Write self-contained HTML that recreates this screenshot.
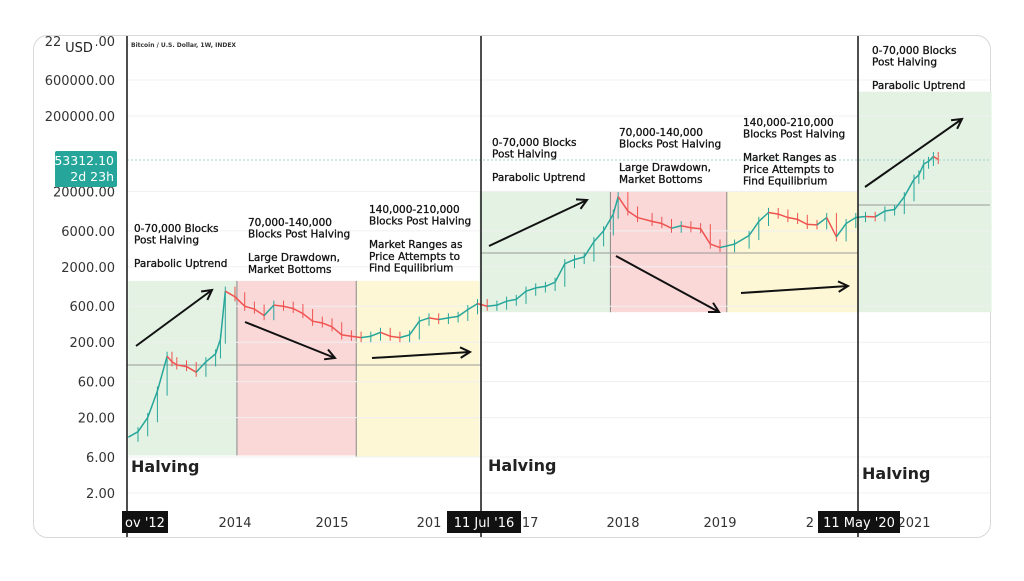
<!DOCTYPE html>
<html><head><meta charset="utf-8"><style>
body{margin:0;background:#fff;width:1024px;height:576px;overflow:hidden;font-family:"Liberation Sans","DejaVu Sans",sans-serif}
svg text{font-family:"DejaVu Sans","Liberation Sans",sans-serif}
</style></head><body>
<svg id="c" width="1024" height="576">
<rect x="33.5" y="35.5" width="957" height="502" rx="14" fill="#fff" stroke="#d8d8d8"/>
<g id="bg"></g><g id="grid"></g><g id="marks"></g><g id="ann"></g><g id="axes"></g>
</svg>
<script>
const yTicks=[600000,200000,20000,6000,2000,600,200,60,20,6,2];
const yTickLabels=["600000.00","200000.00","20000.00","6000.00","2000.00","600.00","200.00","60.00","20.00","6.00","2.00"];
const xTicks=[2014,2015,2016,2017,2018,2019,2021];
const xTickLabels=["2014","2015","201","017","2018","2019","2021"];
const dates=[2012.9,2013.0,2013.1,2013.2,2013.3,2013.35,2013.4,2013.5,2013.6,2013.7,2013.8,2013.85,2013.9,2014.0,2014.1,2014.2,2014.3,2014.4,2014.5,2014.6,2014.7,2014.8,2014.9,2015.0,2015.1,2015.2,2015.3,2015.4,2015.5,2015.6,2015.7,2015.8,2015.9,2016.0,2016.1,2016.2,2016.3,2016.4,2016.5,2016.6,2016.7,2016.8,2016.9,2017.0,2017.1,2017.2,2017.3,2017.4,2017.5,2017.6,2017.7,2017.8,2017.9,2017.95,2018.05,2018.15,2018.3,2018.4,2018.5,2018.6,2018.7,2018.8,2018.9,2019.0,2019.15,2019.3,2019.4,2019.5,2019.6,2019.7,2019.8,2019.9,2020.0,2020.1,2020.2,2020.3,2020.4,2020.5,2020.6,2020.7,2020.8,2020.9,2021.0,2021.05,2021.1,2021.15,2021.2,2021.25];
const closes=[11,13,20,45,130,110,100,95,80,110,140,220,950,800,600,550,450,620,600,560,480,380,360,320,250,240,230,240,270,240,230,250,380,420,400,420,440,540,650,600,620,700,740,950,1050,1100,1250,2200,2500,2700,4300,6000,10000,17000,11000,9000,8000,7500,6500,7000,6600,6400,4000,3600,4000,5200,8000,10500,10000,9000,8500,7300,7200,9000,5000,7500,9000,9300,9200,11000,11500,17000,29000,33000,46000,50000,58000,53000];
const bands=[
[2012.9,2014.02,1300,6.3,"#e3f2e3"],[2014.02,2015.25,1300,6.3,"#fbd8d8"],[2015.25,2016.52,1300,6.1,"#fdf7d6"],
[2016.52,2017.87,20000,500,"#e3f2e3"],[2017.87,2019.07,20000,500,"#fbd8d8"],[2019.07,2020.42,20000,500,"#fdf7d6"],
[2020.42,2021.8,420000,500,"#e3f2e3"]];
const NS="http://www.w3.org/2000/svg";
const X=t=>235+(t-2014)*97;
const Y=v=>493-(Math.log10(v)-Math.log10(2))*75.4;
function mk(tag,attrs,parent,txt){const e=document.createElementNS(NS,tag);for(const k in attrs)e.setAttribute(k,attrs[k]);if(txt!==undefined)e.textContent=txt;document.getElementById(parent).appendChild(e);return e;}
bands.forEach((b,i)=>{const e=mk('rect',{x:X(b[0]),y:Y(b[2]),width:X(b[1])-X(b[0]),height:Y(b[3])-Y(b[2]),fill:b[4]},'bg');


if(i>0&&i!==3&&i!==6){const l=mk('line',{x1:X(b[0]),x2:X(b[0]),y1:Y(b[2]),y2:Y(b[3]),stroke:'#888','stroke-width':1},'bg');

}});
yTicks.forEach(v=>{const l=mk('line',{x1:127,x2:990,y1:Y(v),y2:Y(v),stroke:'#f0f0f0'},'grid');

});
[[127,481,365],[481,858,253],[858,990,205]].forEach(h=>{const l=mk('line',{x1:h[0],x2:h[1],y1:h[2],y2:h[2],stroke:'#999','stroke-width':1},'grid');

});
const pl=mk('line',{x1:127,x2:990,y1:160,y2:160,stroke:'#9fd6cd','stroke-dasharray':'2 2'},'grid');


for(let i=1;i<closes.length;i++){const o=closes[i-1],c=closes[i];const up=c>=o;const col=up?'#26a69a':'#ef5350';
const x=X(dates[i]);const hi=Math.max(o,c)*1.15,lo=Math.min(o,c)/1.15;
const w=mk('line',{x1:x,x2:x,y1:Y(hi),y2:Y(lo),stroke:col,'stroke-width':1},'marks');


const seg=mk('line',{x1:X(dates[i-1]),x2:x,y1:Y(o),y2:Y(c),stroke:col,'stroke-width':1.5},'marks');

}
const arrows=[[136,346,212,290],[245,322,335,358],[372,358,470,352],[489,246,587,200],[616,256,719,312],[741,293,848,286],[865,187,962,119]];
arrows.forEach(a=>{const g=mk('g',{},'ann');
const ang=Math.atan2(a[3]-a[1],a[2]-a[0]);const L=11;
const p=(d)=>[a[2]-L*Math.cos(ang+d),a[3]-L*Math.sin(ang+d)];
const p1=p(0.5),p2=p(-0.5);
const e=document.createElementNS(NS,'path');e.setAttribute('d',`M${a[0]},${a[1]}L${a[2]},${a[3]}M${p1[0]},${p1[1]}L${a[2]},${a[3]}L${p2[0]},${p2[1]}`);
e.setAttribute('stroke','#111');e.setAttribute('stroke-width','2');e.setAttribute('fill','none');g.appendChild(e);});
const notes=[[134,232,["0-70,000 Blocks"," Post Halving","","Parabolic Uptrend"]],[248,226,["70,000-140,000","Blocks Post Halving","","Large Drawdown,","Market Bottoms"]],
[369,213,["140,000-210,000","Blocks Post Halving","","Market Ranges as","Price Attempts to","Find Equilibrium"]],
[492,146,["0-70,000 Blocks"," Post Halving","","Parabolic Uptrend"]],[619,136,["70,000-140,000","Blocks Post Halving","","Large Drawdown,","Market Bottoms"]],
[743,126,["140,000-210,000","Blocks Post Halving","","Market Ranges as","Price Attempts to","Find Equilibrium"]],[872,54,["0-70,000 Blocks"," Post Halving","","Parabolic Uptrend"]]];
notes.forEach(n=>{n[2].forEach((s,j)=>{if(!s)return;const t=mk('text',{x:n[0],y:n[1]+j*11.7,'font-size':'10.5',fill:'#111',stroke:'#111','stroke-width':'0.3'},'ann',s);

});});
[[131,472],[488,471],[862,479]].forEach(h=>{const t=mk('text',{x:h[0],y:h[1],'font-size':'16','font-weight':'bold',fill:'#222'},'ann','Halving');

});
[127,481,858].forEach(x=>{const l=mk('line',{x1:x,x2:x,y1:36,y2:537,stroke:'#222','stroke-width':1.6},'axes');

});
yTicks.forEach((v,i)=>{const t=mk('text',{x:115,y:Y(v)+5,'font-size':'13','text-anchor':'end',fill:'#333'},'axes',yTickLabels[i]);

});
const t0=mk('text',{x:115,y:46,'font-size':'13','text-anchor':'end',fill:'#333'},'axes','220000.00');
const ur=mk('rect',{x:62,y:36,width:34,height:20,fill:'#fff'},'axes');
const u=mk('text',{x:79,y:52,'font-size':'13','text-anchor':'middle',fill:'#222'},'axes','USD');
const ti=mk('text',{x:131,y:47,'font-size':'6','font-weight':'bold',fill:'#333'},'axes','Bitcoin / U.S. Dollar, 1W, INDEX');
const pb=mk('rect',{x:55,y:151,width:62,height:36,fill:'#26a69a',rx:2},'axes');
const p1=mk('text',{x:114,y:165,'font-size':'12.5','text-anchor':'end',fill:'#fff'},'axes','53312.10');
const p2=mk('text',{x:114,y:181,'font-size':'12.5','text-anchor':'end',fill:'#fff'},'axes','2d 23h');
xTicks.forEach((v,i)=>{const t=mk('text',{x:X(v),y:527,'font-size':'13','text-anchor':'middle',fill:'#333'},'axes',xTickLabels[i]);

});
const t20=mk('text',{x:814,y:527,'font-size':'13','text-anchor':'end',fill:'#333'},'axes','2');
[[122,46,"ov '12"],[447,74,"11 Jul '16"],[818,82,"11 May '20"]].forEach(b=>{const r=mk('rect',{x:b[0],y:511,width:b[1],height:22,fill:'#111'},'axes');


const t=mk('text',{x:b[0]+b[1]/2,y:527,'font-size':'13','text-anchor':'middle',fill:'#fff'},'axes',b[2]);

});
</script>
</body></html>
